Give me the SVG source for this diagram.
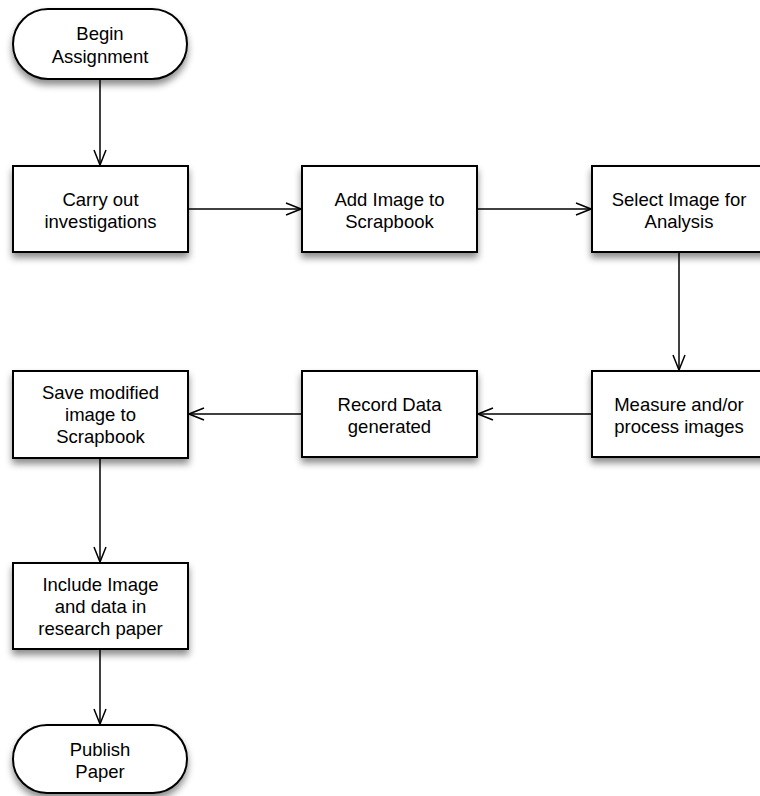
<svg xmlns="http://www.w3.org/2000/svg" width="760" height="796" viewBox="0 0 760 796">
<defs>
<filter id="sh" x="-20%" y="-20%" width="140%" height="160%">
<feDropShadow dx="0" dy="5" stdDeviation="3.5" flood-color="#000" flood-opacity="0.45"/>
</filter>
<marker id="ah" markerWidth="17" markerHeight="14" refX="16" refY="7" orient="auto" markerUnits="userSpaceOnUse">
<path d="M1,1 L16,7 L1,13" fill="none" stroke="#000" stroke-width="1.5"/>
</marker>
</defs>
<style>
.box{fill:#fff;stroke:#000;stroke-width:2;filter:url(#sh)}
.t{font-family:"Liberation Sans",Arial,sans-serif;font-size:18.5px;fill:#000;text-anchor:middle}
.c{fill:none;stroke:#000;stroke-width:1.5;marker-end:url(#ah)}
</style>
<rect width="760" height="796" fill="#fff"/>
<g id="connectors">
<line class="c" x1="100" y1="79" x2="100" y2="165"/>
<line class="c" x1="188" y1="209" x2="301" y2="209"/>
<line class="c" x1="477" y1="209" x2="591" y2="209"/>
<line class="c" x1="679" y1="252" x2="679" y2="370"/>
<line class="c" x1="592" y1="414" x2="478" y2="414"/>
<line class="c" x1="302" y1="414" x2="189" y2="414"/>
<line class="c" x1="100" y1="458" x2="100" y2="562"/>
<line class="c" x1="100" y1="649" x2="100" y2="724"/>
</g>
<g id="begin">
<rect class="box" x="13" y="9" width="174" height="70" rx="35" ry="35"/>
<text class="t" x="100" y="40">Begin</text>
<text class="t" x="100" y="63">Assignment</text>
</g>
<g id="carry">
<rect class="box" x="13" y="166" width="175" height="86"/>
<text class="t" x="100.5" y="206">Carry out</text>
<text class="t" x="100.5" y="228">investigations</text>
</g>
<g id="add">
<rect class="box" x="302" y="166" width="175" height="86"/>
<text class="t" x="389.5" y="206">Add Image to</text>
<text class="t" x="389.5" y="228">Scrapbook</text>
</g>
<g id="select">
<rect class="box" x="592" y="166" width="175" height="86"/>
<text class="t" x="679" y="206">Select Image for</text>
<text class="t" x="679" y="228">Analysis</text>
</g>
<g id="measure">
<rect class="box" x="592" y="371" width="175" height="86"/>
<text class="t" x="679" y="411">Measure and/or</text>
<text class="t" x="679" y="433">process images</text>
</g>
<g id="record">
<rect class="box" x="302" y="371" width="175" height="86"/>
<text class="t" x="389.5" y="411">Record Data</text>
<text class="t" x="389.5" y="433">generated</text>
</g>
<g id="save">
<rect class="box" x="13" y="371" width="175" height="87"/>
<text class="t" x="100.5" y="399">Save modified</text>
<text class="t" x="100.5" y="421">image to</text>
<text class="t" x="100.5" y="443">Scrapbook</text>
</g>
<g id="include">
<rect class="box" x="13" y="563" width="175" height="86"/>
<text class="t" x="100.5" y="591">Include Image</text>
<text class="t" x="100.5" y="613">and data in</text>
<text class="t" x="100.5" y="635">research paper</text>
</g>
<g id="publish">
<rect class="box" x="13" y="725" width="174" height="68" rx="34" ry="34"/>
<text class="t" x="100" y="756">Publish</text>
<text class="t" x="100" y="778">Paper</text>
</g>
</svg>
